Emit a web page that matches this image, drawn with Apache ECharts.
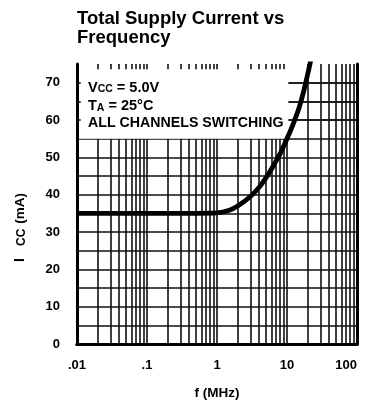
<!DOCTYPE html>
<html>
<head>
<meta charset="utf-8">
<script src="https://cdn.jsdelivr.net/npm/echarts@6/dist/echarts.min.js"></script>
<style>
html,body{margin:0;padding:0;background:#fff;}
#chart{width:370px;height:404px;}
</style>
</head>
<body>
<div id="chart"></div>
<script>
// ---- data ----
const freqMHz = [0.01, 0.5, 1, 1.5, 2, 3, 4, 5, 6.5, 8, 10, 12, 15, 18, 21, 23];
const iccMA   = [35, 35, 35.1, 35.8, 37, 39.5, 42, 44.5, 48, 51, 55, 58.5, 63.5, 69, 74.5, 78];
const xTickLabels = ['.01', '.1', '1', '10', '100'];
const yTickLabels = ['0', '10', '20', '30', '40', '50', '60', '70'];
const decades = [0.01, 0.1, 1, 10];
const multiples = [1, 2, 3, 4, 5, 6, 7, 8, 9];
const hGridValues = [5, 10, 15, 20, 25, 30, 35, 40, 45, 50, 55, 60, 65, 70];
const boxHLines = [60, 65, 70];

const FONT = '"Liberation Sans", Arial, sans-serif';
const X_MIN = 0.01, X_MAX = 100, Y_MIN = 0, Y_MAX = 75;

// vertical grid lines (log positions)
const vValues = [];
decades.forEach(d => multiples.forEach(m => { const v = +(d * m).toPrecision(3); if (v > X_MIN) vValues.push(v); }));

const lineStyle = { color: '#111', width: 1.6, type: 'solid' };
const gridLines = [];
vValues.forEach(v => gridLines.push([{ coord: [v, Y_MIN] }, { coord: [v, Y_MAX] }]));
hGridValues.forEach(v => gridLines.push([{ coord: [X_MIN, v] }, { coord: [X_MAX, v] }]));

// overlay: horizontals to right of the text box, tick marks inside the box
const overlayLines = [];
boxHLines.forEach(v => overlayLines.push([{ coord: [10.5, v] }, { coord: [X_MAX, v] }]));
vValues.filter(v => v < 10).forEach(v => overlayLines.push([{ coord: [v, Y_MAX] }, { coord: [v, 73.6] }]));
boxHLines.forEach(v => overlayLines.push([{ coord: [X_MIN, v] }, { coord: [0.0113, v] }]));

const chart = echarts.init(document.getElementById('chart'), null, { renderer: 'canvas' });
chart.setOption({
  backgroundColor: '#fff',
  animation: false,
  grid: { left: 77, right: 13, top: 64, bottom: 60 },
  xAxis: [{
    type: 'log', logBase: 10, min: X_MIN, max: X_MAX, interval: 1, position: 'bottom', z: 10,
    axisLine: { show: true, lineStyle: { color: '#000', width: 3 } },
    axisTick: { show: false }, splitLine: { show: false }, minorSplitLine: { show: false },
    axisLabel: {
      margin: 15, color: '#000', fontSize: 13, fontWeight: 'bold', fontFamily: FONT,
      alignMaxLabel: 'right',
      formatter: (v, i) => xTickLabels[i]
    }
  }, {
    type: 'log', logBase: 10, min: X_MIN, max: X_MAX, position: 'top', z: 10,
    axisLine: { show: true, lineStyle: { color: '#000', width: 3 } },
    axisTick: { show: false }, axisLabel: { show: false }, splitLine: { show: false }
  }],
  yAxis: [{
    type: 'value', min: Y_MIN, max: Y_MAX, interval: 5, position: 'left', z: 10,
    axisLine: { show: true, lineStyle: { color: '#000', width: 3 } },
    axisTick: { show: false }, splitLine: { show: false },
    axisLabel: {
      margin: 17, color: '#000', fontSize: 13, fontWeight: 'bold', fontFamily: FONT,
      formatter: v => yTickLabels.includes(String(v)) ? String(v) : ''
    }
  }, {
    type: 'value', min: Y_MIN, max: Y_MAX, interval: 5, position: 'right', z: 10,
    axisLine: { show: true, lineStyle: { color: '#000', width: 3 } },
    axisTick: { show: false }, axisLabel: { show: false }, splitLine: { show: false }
  }],
  series: [{
    type: 'line', data: [], z: 1, silent: true,
    markLine: {
      silent: true, z: 1, symbol: ['none', 'none'], animation: false,
      label: { show: false }, emphasis: { disabled: true },
      lineStyle: lineStyle, data: gridLines
    },
    markArea: {
      silent: true, z: 2, animation: false,
      itemStyle: { color: '#fff' }, label: { show: false },
      data: [
        [{ coord: [X_MIN, 55] }, { coord: [10.5, Y_MAX] }]
      ]
    }
  }, {
    type: 'line', data: [], z: 3, silent: true,
    markLine: {
      silent: true, z: 3, symbol: ['none', 'none'], animation: false,
      label: { show: false }, emphasis: { disabled: true },
      lineStyle: lineStyle, data: overlayLines
    }
  }, {
    type: 'line', z: 4, silent: true,
    data: freqMHz.map((f, i) => [f, iccMA[i]]),
    showSymbol: false, smooth: 0.35, clip: true,
    lineStyle: { color: '#000', width: 4.8 }
  }],
  graphic: [
    { type: 'text', x: 77, y: 19, z: 100, style: { text: 'Total Supply Current vs', fill: '#000', font: 'bold 18.5px ' + FONT, textVerticalAlign: 'middle' } },
    { type: 'text', x: 77, y: 38, z: 100, style: { text: 'Frequency', fill: '#000', font: 'bold 18.5px ' + FONT, textVerticalAlign: 'middle' } },
    { type: 'text', x: 88, y: 77, z: 100, style: {
      text: '{m|V}{s|CC}{m| = 5.0V}', textVerticalAlign: 'top',
      rich: { m: { fontSize: 14.5, fontWeight: 'bold', fontFamily: FONT, lineHeight: 18, verticalAlign: 'bottom', fill: '#000' },
              s: { fontSize: 10.5, fontWeight: 'bold', fontFamily: FONT, lineHeight: 12, verticalAlign: 'bottom', fill: '#000' } } } },
    { type: 'text', x: 88, y: 95.5, z: 100, style: {
      text: '{m|T}{s|A}{m| = 25°C}', textVerticalAlign: 'top',
      rich: { m: { fontSize: 14.5, fontWeight: 'bold', fontFamily: FONT, lineHeight: 18, verticalAlign: 'bottom', fill: '#000' },
              s: { fontSize: 10.5, fontWeight: 'bold', fontFamily: FONT, lineHeight: 12, verticalAlign: 'bottom', fill: '#000' } } } },
    { type: 'text', x: 88, y: 114, z: 100, style: {
      text: 'ALL CHANNELS SWITCHING', textVerticalAlign: 'top', fill: '#000',
      font: 'bold 14.2px ' + FONT, lineHeight: 18 } },
    { type: 'text', x: 217, y: 393, z: 100, style: {
      text: 'f (MHz)', fill: '#000', font: 'bold 13.5px ' + FONT, textAlign: 'center', textVerticalAlign: 'middle' } },
    { type: 'text', x: 19, y: 228.5, rotation: Math.PI / 2, z: 100, style: {
      text: '{i|I}{g| }{s|CC}{g2| }{m|(mA)}', textAlign: 'center', textVerticalAlign: 'middle',
      rich: { i: { fontSize: 14, fontWeight: 'bold', fontFamily: FONT, lineHeight: 17, verticalAlign: 'bottom', fill: '#000', width: 8, align: 'center' },
              g: { fontSize: 10, lineHeight: 11, width: 10 },
              g2: { fontSize: 10, lineHeight: 11, width: 5 },
              m: { fontSize: 13.5, fontWeight: 'bold', fontFamily: FONT, lineHeight: 17, verticalAlign: 'bottom', fill: '#000' },
              s: { fontSize: 12, fontWeight: 'bold', fontFamily: FONT, lineHeight: 12, verticalAlign: 'bottom', fill: '#000' } } } }
  ]
});
</script>
</body>
</html>
